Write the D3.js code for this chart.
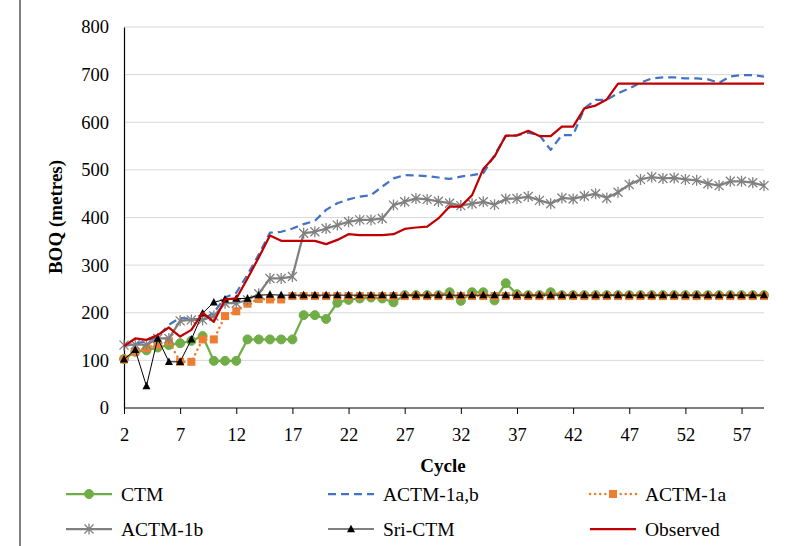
<!DOCTYPE html>
<html><head><meta charset="utf-8">
<script src="https://cdn.jsdelivr.net/npm/d3@7/dist/d3.min.js"></script>
<style>body{margin:0;background:#fff}svg{display:block}text{font-family:"Liberation Serif","Times New Roman",serif}</style>
</head><body><svg id="c" width="787" height="546" font-family="'Liberation Serif','Times New Roman',serif"></svg>
<script>
const cycles = d3.range(2, 60);
const xTicks = [2, 7, 12, 17, 22, 27, 32, 37, 42, 47, 52, 57];
const yTicks = [0, 100, 200, 300, 400, 500, 600, 700, 800];

const ctm = [103,118,121,127,132,136,141,151,99,99,99,144,144,144,144,144,195,195,187,221,227,230,232,230,222,237,237,237,237,243,225,243,243,226,262,239,237,237,243,237,237,237,237,237,237,237,237,237,237,237,237,237,237,237,237,237,237,237];
const actm1ab = [130,135,140,150,175,189,187,186,200,232,242,280,322,368,370,377,386,393,416,430,438,444,447,465,482,489,488,487,484,481,486,489,493,531,571,573,578,573,542,573,573,629,647,647,661,671,683,692,694,694,692,692,690,683,696,699,699,696];
const actm1a = [102,118,126,133,140,97,97,144,144,193,203,219,229,228,228,235,235,235,235,235,235,235,235,235,235,235,235,235,235,235,235,235,235,235,235,235,235,235,235,235,235,235,235,235,235,235,235,235,235,235,235,235,235,235,235,235,235,235];
const actm1b = [132,133,133,146,146,183,185,185,193,220,220,227,240,272,272,276,367,370,377,384,391,395,395,398,426,433,440,438,434,430,425,429,433,427,439,440,444,436,429,441,439,445,450,441,453,469,480,485,482,483,480,478,471,467,476,476,473,467];
const sriCtm = [102,122,46,146,97,97,144,199,222,228,230,230,237,238,237,237,237,237,237,237,237,237,237,237,237,237,237,237,237,237,237,237,237,237,237,237,237,237,237,237,237,237,237,237,237,237,237,237,237,237,237,237,237,237,237,237,237,237];
const observed = [130,146,143,153,169,150,164,200,181,228,230,272,316,362,351,351,351,351,344,353,365,363,363,363,365,376,379,381,398,423,423,447,502,528,572,572,582,571,571,591,591,629,635,648,681,681,681,681,681,681,681,681,681,681,681,681,681,681];

const FONT = "'Liberation Serif','Times New Roman',serif";
const svg = d3.select("#c");
svg.append("rect").attr("width",787).attr("height",546).attr("fill","#fff");

const x = d3.scaleLinear().domain([2, 59]).range([124, 764]);
const y = d3.scaleLinear().domain([0, 800]).range([408, 27]);

// gridlines
svg.append("g").selectAll("line").data(yTicks.filter(d=>d>0)).join("line")
  .attr("x1",124).attr("x2",764).attr("y1",d=>y(d)).attr("y2",d=>y(d))
  .attr("stroke","#d9d9d9").attr("stroke-width",1);

// axes
const yAxis = d3.axisLeft(y).tickValues(yTicks).tickSize(0).tickPadding(15);
const gy = svg.append("g").attr("transform","translate(124,0)").call(yAxis);
gy.attr("font-family",FONT).attr("font-size",18.5);
gy.select(".domain").attr("stroke","#000").attr("stroke-width",1.2);
gy.selectAll("text").attr("fill","#000");

const xAxis = d3.axisBottom(x).tickValues(xTicks).tickSize(6).tickPadding(14).tickFormat(d3.format("d"));
const gx = svg.append("g").attr("transform","translate(0,408)").call(xAxis);
gx.attr("font-family",FONT).attr("font-size",18.5);
gx.select(".domain").attr("stroke","#000").attr("stroke-width",1.2).attr("d","M124,0H764");
gx.selectAll(".tick line").attr("stroke","#000");
gx.selectAll("text").attr("fill","#000");

// titles
svg.append("text").attr("x",443).attr("y",472).attr("text-anchor","middle")
  .attr("font-size",19).attr("font-weight","bold").text("Cycle");
svg.append("text").attr("transform","translate(62,217) rotate(-90)").attr("text-anchor","middle")
  .attr("font-size",19).attr("font-weight","bold").text("BOQ (metres)");

const series = [
  {name:"CTM", data:ctm, color:"#70ad47", w:2.25, dash:null, marker:"circle"},
  {name:"ACTM-1a,b", data:actm1ab, color:"#4472c4", w:2.25, dash:"8,5", marker:null},
  {name:"ACTM-1a", data:actm1a, color:"#ed7d31", w:2.5, dash:"0.1,5", cap:"round", marker:"square"},
  {name:"ACTM-1b", data:actm1b, color:"#808080", w:2.25, dash:null, marker:"asterisk"},
  {name:"Sri-CTM", data:sriCtm, color:"#000000", w:1, dash:null, marker:"triangle"},
  {name:"Observed", data:observed, color:"#c00000", w:2.25, dash:null, marker:null}
];

function drawMarker(g, type, color){
  if(type==="circle"){
    g.append("circle").attr("r",4.5).attr("fill",color).attr("stroke",color);
  } else if(type==="square"){
    g.append("rect").attr("x",-4).attr("y",-4).attr("width",8).attr("height",8).attr("fill",color);
  } else if(type==="asterisk"){
    g.append("path").attr("d","M-4.5,-4.5L4.5,4.5M-4.5,4.5L4.5,-4.5M0,-5.5L0,5.5").attr("stroke",color).attr("stroke-width",1.3).attr("fill","none");
  } else if(type==="triangle"){
    g.append("path").attr("d","M0,-4.3L4,3.2L-4,3.2Z").attr("fill",color);
  }
}

const line = d3.line().x((d,i)=>x(cycles[i])).y(d=>y(d));
series.forEach(s=>{
  const g = svg.append("g");
  g.append("path").attr("d",line(s.data)).attr("fill","none").attr("stroke",s.color)
    .attr("stroke-width",s.w).attr("stroke-dasharray",s.dash).attr("stroke-linecap",s.cap||"butt")
    .attr("stroke-linejoin","round");
  if(s.marker){
    s.data.forEach((v,i)=>{
      const mg = g.append("g").attr("transform",`translate(${x(cycles[i])},${y(v)})`);
      drawMarker(mg, s.marker, s.color);
    });
  }
});

// legend
const legCols = [66, 328, 590];
const legRows = [494, 529];
series.forEach((s,i)=>{
  const lx = legCols[i%3], ly = legRows[Math.floor(i/3)];
  const g = svg.append("g");
  g.append("line").attr("x1",lx).attr("x2",lx+46).attr("y1",ly).attr("y2",ly)
    .attr("stroke",s.color).attr("stroke-width",s.w).attr("stroke-dasharray",s.dash).attr("stroke-linecap",s.cap||"butt");
  if(s.marker){
    const mg = g.append("g").attr("transform",`translate(${lx+23},${ly})`);
    drawMarker(mg, s.marker, s.color);
  }
  g.append("text").attr("x",lx+55).attr("y",ly+7).attr("font-size",19.5).text(s.name);
});

// outer border
svg.append("line").attr("x1",20).attr("x2",20).attr("y1",0).attr("y2",546).attr("stroke","#000").attr("stroke-width",1);
</script></body></html>
